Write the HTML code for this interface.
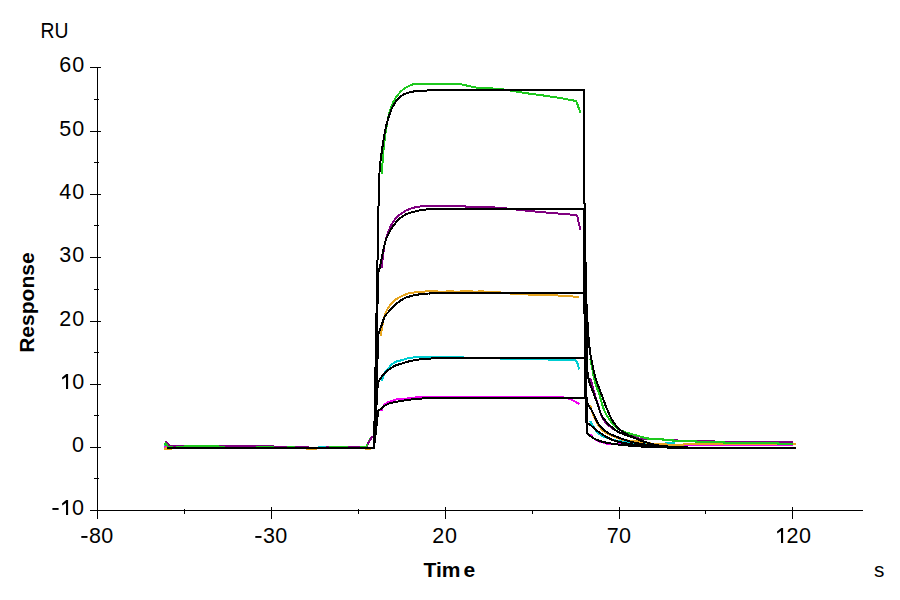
<!DOCTYPE html>
<html><head><meta charset="utf-8"><style>
html,body{margin:0;padding:0;background:#fff;}
body{width:900px;height:600px;overflow:hidden;position:relative;}
svg{position:absolute;left:0;top:0;}
text{font-family:"Liberation Sans",sans-serif;}
</style></head><body>
<svg width="900" height="600" viewBox="0 0 900 600">
<rect width="900" height="600" fill="#fff"/>
<g fill="#000" shape-rendering="crispEdges">
<rect x="97" y="67" width="1" height="451"/>
<rect x="97" y="510" width="766" height="1"/>
<rect x="90" y="67" width="11" height="1"/>
<rect x="90" y="131" width="11" height="1"/>
<rect x="90" y="194" width="11" height="1"/>
<rect x="90" y="257" width="11" height="1"/>
<rect x="90" y="321" width="11" height="1"/>
<rect x="90" y="384" width="11" height="1"/>
<rect x="90" y="447" width="11" height="1"/>
<rect x="90" y="510" width="11" height="1"/>
<rect x="94" y="99" width="5" height="1"/>
<rect x="94" y="162" width="5" height="1"/>
<rect x="94" y="225" width="5" height="1"/>
<rect x="94" y="289" width="5" height="1"/>
<rect x="94" y="352" width="5" height="1"/>
<rect x="94" y="415" width="5" height="1"/>
<rect x="94" y="478" width="5" height="1"/>
<rect x="97" y="507" width="1" height="12"/>
<rect x="271" y="507" width="1" height="12"/>
<rect x="445" y="507" width="1" height="12"/>
<rect x="619" y="507" width="1" height="12"/>
<rect x="792" y="507" width="1" height="12"/>
<rect x="184" y="509" width="1" height="5"/>
<rect x="358" y="509" width="1" height="5"/>
<rect x="532" y="510" width="1" height="4"/>
<rect x="705" y="510" width="1" height="4"/>
</g>
<g font-size="21.5" fill="#000">
<rect x="81.30" y="536.00" width="6.2" height="1.9"/>
<text x="89.00" y="543">8</text>
<text x="101.25" y="543">0</text>
<rect x="255.30" y="536.00" width="6.2" height="1.9"/>
<text x="263.00" y="543">3</text>
<text x="275.25" y="543">0</text>
<text x="432.25" y="543">2</text>
<text x="445.00" y="543">0</text>
<text x="606.75" y="543">7</text>
<text x="619.00" y="543">0</text>
<path d="M783.10,528.00V543.00H781.00V531.00L777.30,533.50L777.00,531.60L781.20,528.00Z"/>
<text x="786.50" y="543">2</text>
<text x="799.00" y="543">0</text>
<text x="59.30" y="72">6</text>
<text x="72.30" y="72">0</text>
<text x="59.30" y="136">5</text>
<text x="72.30" y="136">0</text>
<text x="59.30" y="199">4</text>
<text x="72.30" y="199">0</text>
<text x="59.30" y="262">3</text>
<text x="72.30" y="262">0</text>
<text x="59.30" y="326">2</text>
<text x="72.30" y="326">0</text>
<path d="M68.10,374.00V389.00H66.00V377.00L62.30,379.50L62.00,377.60L66.20,374.00Z"/>
<text x="72.30" y="389">0</text>
<text x="72.00" y="452">0</text>
<rect x="52.40" y="508.00" width="6.2" height="1.9"/>
<path d="M68.10,500.00V515.00H66.00V503.00L62.30,505.50L62.00,503.60L66.20,500.00Z"/>
<text x="72.10" y="515">0</text>
<text transform="translate(40.45,38) scale(0.9,1)" font-size="21.5">RU</text>
<text x="874.1" y="577" font-size="20.8">s</text>
<text x="423.5" y="577" font-size="21" font-weight="bold">Tim</text>
<text x="463.5" y="577" font-size="21" font-weight="bold">e</text>
<text transform="translate(34.2,352.8) rotate(-90)" font-size="21" font-weight="bold">Response</text>
</g>
<g fill="none" stroke-width="2" shape-rendering="crispEdges" stroke-linejoin="round">
<polyline stroke="#00cdd2" points="164.0,445.0 165.5,445.0 166.5,446.5 168.0,448.0 168.0,448.0 319.0,448.0 319.0,447.0 327.0,447.0 327.0,448.0 366.0,448.0"/>
<polyline stroke="#00cdd2" points="382.0,381.0 383.0,377.3 384.0,374.2 385.0,372.2 386.0,370.8 387.0,369.8 388.0,368.7 389.0,367.5 390.0,366.3 391.0,365.2 392.0,364.3 393.0,363.5 394.0,362.8 395.0,362.2 396.0,361.7 397.0,361.4 398.0,361.1 399.0,360.8 400.0,360.6 401.0,360.4 402.0,360.2 403.0,359.9 404.0,359.6 405.0,359.3 406.0,358.9 407.0,358.6 408.0,358.3 409.0,358.1 410.0,357.9 411.0,357.7 412.0,357.6 413.0,357.5 414.0,357.4 415.0,357.3 416.0,357.3 417.0,357.3 418.0,357.3 419.0,357.2 420.0,357.2 421.0,357.2 422.0,357.2 423.0,357.1 424.0,357.1 425.0,357.1 426.0,357.1 427.0,357.1 428.0,357.1 429.0,357.1 430.0,357.0 431.0,357.0 432.0,357.0 433.0,357.0 434.0,357.0 435.0,357.0 436.0,357.0 437.0,357.0 438.0,357.0 439.0,357.0 440.0,357.0 443.0,357.0 446.0,357.0 449.0,357.1 452.0,357.2 455.0,357.2 458.0,357.3 461.0,357.4 464.0,357.5 467.0,357.6 470.0,357.7 473.0,357.8 476.0,357.9 479.0,358.0 482.0,358.0 485.0,358.1 488.0,358.2 491.0,358.3 494.0,358.3 497.0,358.4 500.0,358.5 503.0,358.5 506.0,358.6 509.0,358.7 512.0,358.7 515.0,358.8 518.0,358.9 521.0,358.9 524.0,359.0 527.0,359.0 530.0,359.1 533.0,359.2 536.0,359.2 539.0,359.3 542.0,359.4 545.0,359.4 548.0,359.5 551.0,359.5 554.0,359.6 557.0,359.7 560.0,359.7 563.0,359.8 566.0,359.8 569.0,359.9 572.0,359.9 575.0,360.0 577.0,362.0 579.3,369.3"/>
<polyline stroke="#00cdd2" points="590.1,421.1 591.1,422.6 592.1,424.2 593.1,425.8 594.1,427.3 595.1,429.0 596.1,430.7 597.1,432.1 598.1,433.1 599.1,433.9 600.1,434.6 601.1,435.2 602.1,435.8 603.1,436.3 604.1,436.8 605.1,437.2 606.1,437.5 607.1,437.9 608.1,438.2 609.1,438.6 610.1,439.0 611.1,439.3 612.1,439.7 613.1,440.0 614.1,440.2 615.1,440.4 616.1,440.6 617.1,440.7 618.1,440.9 619.1,441.1 620.1,441.2 621.1,441.4 622.1,441.5 623.1,441.7 624.1,441.8 625.1,441.9 626.1,442.1 627.1,442.2 628.1,442.3 629.1,442.5 630.1,442.6 631.1,442.7 632.1,442.8 633.1,442.8 634.1,442.9 635.1,443.0 636.1,443.1 637.1,443.1 638.1,443.2 639.1,443.3 640.0,443.3 640.0,444.0 666.0,444.0 666.0,443.0 674.0,443.0 674.0,445.0 684.0,445.0 684.0,445.0 697.0,445.0 697.0,445.0 793.0,445.0"/>
<polyline stroke="#f000f0" points="164.0,446.5 166.0,446.5 167.0,448.0 167.0,448.0 366.0,448.0"/>
<polyline stroke="#f000f0" points="381.3,411.1 382.3,408.6 383.3,406.5 384.3,405.0 385.3,404.0 386.3,403.3 387.3,402.7 388.3,402.2 389.3,401.8 390.3,401.4 391.3,401.0 392.3,400.7 393.3,400.4 394.3,400.1 395.3,399.8 396.3,399.5 397.3,399.3 398.3,399.2 399.3,399.1 400.3,399.1 401.3,399.0 402.3,399.0 403.3,398.9 404.3,398.9 405.3,398.8 406.3,398.6 407.3,398.5 408.3,398.3 409.3,398.2 410.3,398.0 411.3,397.9 412.3,397.7 413.3,397.6 414.3,397.5 415.3,397.5 416.3,397.4 417.3,397.4 418.3,397.4 419.3,397.3 420.3,397.3 421.3,397.3 422.3,397.3 423.3,397.2 424.3,397.2 425.3,397.2 426.3,397.2 427.3,397.1 428.3,397.1 429.3,397.1 430.3,397.1 431.3,397.1 432.3,397.1 433.3,397.0 434.3,397.0 435.3,397.0 436.3,397.0 437.3,397.0 438.3,397.0 439.3,397.0 440.3,397.0 443.3,397.0 446.3,397.0 449.3,397.0 452.3,397.0 455.3,397.0 458.3,397.0 461.3,397.0 464.3,397.0 467.3,397.0 470.3,397.0 473.3,397.0 476.3,397.0 479.3,397.0 482.3,397.0 485.3,397.0 488.3,397.0 491.3,397.0 494.3,397.0 497.3,397.0 500.3,397.0 503.3,397.0 506.3,397.0 509.3,397.0 512.3,397.0 515.3,397.0 518.3,397.0 521.3,397.0 524.3,397.0 527.3,397.0 530.3,397.0 533.3,397.0 536.3,397.0 539.3,397.0 542.3,397.0 545.3,397.0 548.3,397.0 551.3,397.0 554.3,397.0 557.3,397.0 560.3,397.0 563.3,397.3 566.3,398.0 569.3,398.9 571.0,399.3 579.3,404.0"/>
<polyline stroke="#f000f0" points="590.4,434.2 591.4,435.5 592.4,436.8 593.4,437.9 594.4,438.8 595.4,439.4 596.4,440.0 597.4,440.5 598.4,441.0 599.4,441.4 600.4,441.8 601.4,442.1 602.4,442.4 603.4,442.7 604.4,443.0 605.4,443.3 606.4,443.6 607.4,443.8 608.4,443.9 609.4,444.0 610.4,444.1 611.4,444.1 612.4,444.2 613.4,444.2 614.4,444.3 615.4,444.3 616.4,444.3 617.4,444.4 618.4,444.4 619.4,444.4 620.4,444.4 621.4,444.4 622.4,444.4 623.4,444.5 624.4,444.5 625.4,444.5 626.4,444.5 627.4,444.5 628.4,444.5 629.4,444.5 630.4,444.5 631.4,444.6 632.4,444.6 633.4,444.6 634.4,444.6 635.4,444.6 636.4,444.6 637.4,444.6 638.4,444.6 639.4,444.6 640.0,444.6 640.0,446.0 657.0,446.0 657.0,445.0 666.0,445.0 666.0,446.0 671.0,446.0 671.0,445.0 793.0,445.0"/>
<polyline stroke="#e6a521" points="164.0,449.0 166.0,449.0 166.0,448.0 168.0,448.0 168.0,449.0 171.0,449.0 171.0,448.0 307.0,448.0 307.0,449.0 316.0,449.0 316.0,448.0 366.0,448.0 366.0,449.0 371.0,449.0"/>
<polyline stroke="#e6a521" points="380.8,335.6 381.8,329.1 382.8,323.4 383.8,318.9 384.8,315.5 385.8,312.8 386.8,310.6 387.8,308.7 388.8,307.0 389.8,305.6 390.8,304.4 391.8,303.2 392.8,302.2 393.8,301.2 394.8,300.3 395.8,299.5 396.8,298.8 397.8,298.2 398.8,297.6 399.8,297.1 400.8,296.6 401.8,296.1 402.8,295.7 403.8,295.2 404.8,294.8 405.8,294.4 406.8,294.0 407.8,293.6 408.8,293.2 409.8,293.0 410.8,292.8 411.8,292.6 412.8,292.6 413.8,292.5 414.8,292.4 415.8,292.3 416.8,292.2 417.8,292.1 418.8,292.0 419.8,292.0 420.8,291.9 421.8,291.8 422.8,291.7 423.8,291.6 424.8,291.5 425.8,291.4 426.8,291.4 427.8,291.3 428.8,291.3 429.8,291.3 430.8,291.3 431.8,291.3 432.8,291.3 433.8,291.3 434.8,291.3 435.8,291.3 436.8,291.3 437.8,291.3 438.8,292.0 439.8,292.0 440.8,292.0 443.8,292.0 446.8,291.4 449.8,291.0 452.8,291.1 455.8,292.0 458.8,292.0 461.8,291.0 464.8,291.0 467.8,291.0 470.8,291.0 473.8,291.6 476.8,292.0 479.8,291.0 482.8,291.0 485.8,292.1 488.8,292.3 491.8,292.3 494.8,292.4 497.8,292.4 500.8,292.5 503.8,292.8 506.8,293.1 509.8,293.4 512.8,293.8 515.8,294.0 518.8,294.1 521.8,294.3 524.8,294.4 527.8,294.5 530.8,294.6 533.8,294.7 536.8,294.8 539.8,294.9 542.8,294.9 545.8,295.0 548.8,295.1 551.8,295.2 554.8,295.4 557.8,295.5 560.8,295.6 563.8,295.8 566.8,296.0 569.8,296.2 572.8,296.5 575.8,296.7 578.8,297.0 579.3,297.0"/>
<polyline stroke="#e6a521" points="590.0,405.0 591.0,408.2 592.0,411.3 593.0,414.1 594.0,416.5 595.0,418.8 596.0,420.9 597.0,422.8 598.0,424.6 599.0,426.2 600.0,427.5 601.0,428.7 602.0,429.7 603.0,430.7 604.0,431.6 605.0,432.4 606.0,433.1 607.0,433.6 608.0,434.2 609.0,434.6 610.0,435.0 611.0,435.4 612.0,435.8 613.0,436.2 614.0,436.6 615.0,437.0 616.0,437.4 617.0,437.8 618.0,438.1 619.0,438.5 620.0,438.8 621.0,439.1 622.0,439.4 623.0,439.6 624.0,439.8 625.0,440.0 626.0,440.2 627.0,440.4 628.0,440.5 629.0,440.7 630.0,440.8 631.0,441.0 632.0,441.1 633.0,441.2 634.0,441.2 635.0,441.3 636.0,441.3 637.0,441.4 638.0,441.4 639.0,441.5 640.0,441.5 641.0,441.5 642.0,441.5 642.0,441.5 646.0,441.5 646.0,442.5 650.0,442.5 650.0,443.5 666.0,443.5 666.0,444.5 684.0,444.5 684.0,443.5 696.0,443.5 696.0,443.5 724.0,443.5 724.0,444.0 796.0,444.0"/>
<polyline stroke="#800080" points="164.5,445.0 166.3,442.0 169.0,445.0 170.0,446.0 170.0,446.0 273.0,446.0 273.0,447.0 308.0,447.0 308.0,448.0 327.0,448.0 327.0,447.0 330.0,447.0 330.0,448.0 347.0,448.0 347.0,447.0 361.0,447.0 361.0,448.0 366.0,448.0 367.0,445.0 372.5,436.0"/>
<polyline stroke="#800080" points="381.6,268.1 382.6,259.0 383.6,251.0 384.6,244.8 385.6,240.3 386.6,236.7 387.6,233.7 388.6,231.0 389.6,228.6 390.6,226.4 391.6,224.4 392.6,222.6 393.6,221.2 394.6,219.9 395.6,218.7 396.6,217.6 397.6,216.6 398.6,215.7 399.6,214.9 400.6,214.1 401.6,213.4 402.6,212.7 403.6,212.0 404.6,211.4 405.6,210.8 406.6,210.3 407.6,209.9 408.6,209.4 409.6,209.1 410.6,208.7 411.6,208.4 412.6,208.0 413.6,207.8 414.6,207.5 415.6,207.3 416.6,207.1 417.6,206.9 418.6,206.7 419.6,206.5 420.6,206.4 421.6,206.2 422.6,206.0 423.6,205.8 424.6,205.7 425.6,205.6 426.6,205.6 427.6,205.6 428.6,205.6 429.6,205.6 430.6,205.5 431.6,205.5 432.6,205.5 433.6,205.5 434.6,205.5 435.6,205.5 436.6,205.5 437.6,205.5 438.6,205.5 439.6,205.5 440.6,205.5 443.6,205.5 446.6,205.5 449.6,205.5 452.6,205.5 455.6,205.5 458.6,205.5 461.6,205.5 464.6,206.3 467.6,207.0 470.6,207.1 473.6,207.2 476.6,207.2 479.6,207.3 482.6,207.3 485.6,207.3 488.6,207.4 491.6,207.4 494.6,207.5 497.6,207.6 500.6,207.8 503.6,208.1 506.6,208.4 509.6,208.8 512.6,209.2 515.6,209.5 518.6,209.9 521.6,210.2 524.6,210.5 527.6,210.8 530.6,211.1 533.6,211.4 536.6,211.7 539.6,212.0 542.6,212.2 545.6,212.5 548.6,212.7 551.6,213.0 554.6,213.2 557.6,213.5 560.6,213.8 563.6,214.0 566.6,214.3 569.6,214.5 572.6,214.8 575.6,215.0 576.0,215.0 577.5,217.0 580.3,230.0"/>
<polyline stroke="#800080" points="590.4,378.3 591.4,382.1 592.4,385.8 593.4,389.4 594.4,392.9 595.4,396.4 596.4,399.8 597.4,403.1 598.4,406.3 599.4,409.5 600.4,412.7 601.4,415.6 602.4,417.8 603.4,419.5 604.4,420.9 605.4,422.1 606.4,423.2 607.4,424.2 608.4,425.1 609.4,426.1 610.4,426.9 611.4,427.7 612.4,428.4 613.4,429.1 614.4,429.7 615.4,430.2 616.4,430.8 617.4,431.3 618.4,431.8 619.4,432.3 620.4,432.7 621.4,433.1 622.4,433.5 623.4,433.8 624.4,434.1 625.4,434.4 626.4,434.6 627.4,434.9 628.4,435.1 629.4,435.4 630.4,435.6 631.4,435.9 632.4,436.2 633.4,436.5 634.4,436.9 635.4,437.2 636.4,437.6 637.4,438.0 638.4,438.4 639.4,438.8 640.0,439.0 640.0,439.0 663.0,439.0 663.0,440.0 677.0,440.0 677.0,441.0 696.0,441.0 696.0,441.0 714.0,441.0 714.0,442.0 793.0,442.0"/>
<polyline stroke="#1ec81e" points="164.5,445.5 165.5,443.5 167.0,445.0 168.0,447.0 168.0,447.0 172.0,447.0 172.0,448.0 177.0,448.0 177.0,447.0 185.0,447.0 185.0,446.0 218.0,446.0 218.0,447.0 224.0,447.0 224.0,448.0 257.0,448.0 257.0,447.0 273.0,447.0 273.0,448.0 288.0,448.0 288.0,447.0 294.0,447.0 294.0,448.0 330.0,448.0 330.0,447.0 347.0,447.0 347.0,448.0 361.0,448.0 361.0,447.0 366.0,447.0 372.0,436.0"/>
<polyline stroke="#1ec81e" points="381.8,174.2 382.8,158.6 383.8,147.0 384.8,138.3 385.8,131.3 386.8,125.2 387.8,119.8 388.8,115.3 389.8,111.5 390.8,108.2 391.8,105.4 392.8,103.1 393.8,101.1 394.8,99.3 395.8,97.6 396.8,96.2 397.8,94.9 398.8,93.7 399.8,92.6 400.8,91.5 401.8,90.6 402.8,89.7 403.8,89.0 404.8,88.3 405.8,87.6 406.8,87.0 407.8,86.5 408.8,86.0 409.8,85.6 410.8,85.2 411.8,84.7 412.8,84.4 413.8,84.0 414.8,83.8 415.8,83.7 416.8,83.7 417.8,83.7 418.8,83.7 419.8,83.7 420.8,83.7 421.8,83.7 422.8,83.7 423.8,83.7 424.8,83.7 425.8,83.7 426.8,83.7 427.8,83.7 428.8,83.7 429.8,83.7 430.8,83.7 431.8,83.7 432.8,83.7 433.8,83.7 434.8,83.7 435.8,83.7 436.8,83.7 437.8,83.7 438.8,83.7 439.8,83.7 440.8,83.7 443.8,83.7 446.8,83.7 449.8,83.7 452.8,83.7 455.8,83.7 458.8,83.9 461.8,84.4 464.8,85.1 467.8,85.8 470.8,86.5 473.8,87.1 476.8,87.6 479.8,87.8 482.8,88.0 485.8,88.1 488.8,88.3 491.8,88.4 494.8,88.6 497.8,88.8 500.8,89.1 503.8,89.5 506.8,89.9 509.8,90.4 512.8,90.9 515.8,91.5 518.8,92.0 521.8,92.5 524.8,92.9 527.8,93.4 530.8,93.8 533.8,94.2 536.8,94.6 539.8,95.0 542.8,95.4 545.8,95.8 548.8,96.3 551.8,96.7 554.8,97.2 557.8,97.7 560.8,98.2 563.8,98.7 566.8,99.3 569.8,99.8 572.8,100.4 575.8,100.9 576.2,101.0 580.4,112.6"/>
<polyline stroke="#1ec81e" points="590.4,359.2 591.4,364.3 592.4,369.5 593.4,375.0 594.4,379.8 595.4,383.4 596.4,386.5 597.4,389.3 598.4,392.0 599.4,394.9 600.4,398.0 601.4,401.6 602.4,405.2 603.4,408.4 604.4,410.9 605.4,413.0 606.4,414.8 607.4,416.5 608.4,418.0 609.4,419.4 610.4,420.8 611.4,422.1 612.4,423.4 613.4,424.6 614.4,425.7 615.4,426.7 616.4,427.5 617.4,428.3 618.4,428.9 619.4,429.5 620.4,430.1 621.4,430.6 622.4,431.0 623.4,431.4 624.4,431.8 625.4,432.2 626.4,432.6 627.4,432.9 628.4,433.3 629.4,433.5 630.4,433.8 631.4,434.1 632.4,434.4 633.4,434.7 634.4,435.0 635.4,435.3 636.4,435.5 637.4,435.8 638.4,436.1 639.4,436.3 640.4,436.6 641.4,436.9 642.4,437.1 643.4,437.4 644.0,437.5 644.0,438.0 648.0,438.0 648.0,439.0 663.0,439.0 663.0,440.0 673.0,440.0 673.0,441.0 696.0,441.0 696.0,442.0 724.0,442.0 724.0,443.0 778.0,443.0 778.0,444.0 793.0,444.0"/>
<polyline stroke="#800080" points="367.5,444.5 372.5,436.0"/>
</g>
<g fill="none" stroke="#000" stroke-width="2" shape-rendering="crispEdges" stroke-linejoin="round">
<polyline points="167.0,448.0 374.0,448.0 379.0,180.0 380.0,165.4 381.0,157.0 382.0,150.3 383.0,143.2 384.0,136.7 385.0,131.3 386.0,126.6 387.0,122.5 388.0,119.0 389.0,115.9 390.0,113.1 391.0,110.4 392.0,108.1 393.0,106.1 394.0,104.4 395.0,102.7 396.0,101.2 397.0,100.0 398.0,98.9 399.0,97.9 400.0,97.0 401.0,96.2 402.0,95.5 403.0,94.9 404.0,94.3 405.0,93.9 406.0,93.5 407.0,93.1 408.0,92.8 409.0,92.5 410.0,92.2 411.0,92.0 412.0,91.8 413.0,91.6 414.0,91.4 415.0,91.3 416.0,91.1 417.0,91.0 418.0,90.9 419.0,90.8 420.0,90.8 421.0,90.7 422.0,90.7 423.0,90.6 424.0,90.6 425.0,90.5 426.0,90.5 427.0,90.5 428.0,90.4 429.0,90.4 430.0,90.4 431.0,90.3 432.0,90.3 433.0,90.3 434.0,90.2 435.0,90.2 436.0,90.2 437.0,90.1 438.0,90.1 439.0,90.1 440.0,90.1 460.0,90.0 480.0,90.0 500.0,90.0 520.0,90.0 540.0,90.0 560.0,90.0 580.0,90.0 584.0,90.0 584.0,203.0 585.0,204.0 585.5,260.0 586.0,296.0 587.0,314.0 588.0,330.0 589.0,343.0 590.0,351.6 591.0,357.9 592.0,362.7 593.0,367.3 594.0,371.9 595.0,376.1 596.0,379.7 597.0,382.7 598.0,385.4 599.0,387.9 600.0,390.4 601.0,393.0 602.0,395.8 603.0,398.6 604.0,401.3 605.0,404.0 606.0,406.6 607.0,409.0 608.0,411.4 609.0,413.7 610.0,415.9 611.0,418.0 612.0,419.9 613.0,421.5 614.0,423.0 615.0,424.3 616.0,425.6 617.0,426.8 618.0,427.8 619.0,428.8 620.0,429.7 621.0,430.5 622.0,431.3 623.0,432.0 624.0,432.6 625.0,433.2 626.0,433.8 627.0,434.3 628.0,434.9 629.0,435.4 630.0,435.8 631.0,436.3 632.0,436.7 633.0,437.1 634.0,437.6 635.0,438.0 636.0,438.5 637.0,439.0 638.0,439.6 639.0,440.1 640.0,440.5 641.0,440.8 642.0,441.1 643.0,441.4 644.0,441.7 645.0,441.9 646.0,442.2 647.0,442.5 648.0,442.9 649.0,443.2 650.0,443.7 660.0,445.9 670.0,446.7 680.0,447.2 690.0,447.6 700.0,447.9 710.0,448.0 720.0,448.0 730.0,448.0 740.0,448.0 750.0,448.0 760.0,448.0 770.0,448.0 780.0,448.0 790.0,448.0 796.0,448.0"/>
<polyline points="167.0,448.0 374.0,448.0 378.3,272.0 379.3,269.3 380.3,265.1 381.3,260.0 382.3,255.0 383.3,250.2 384.3,245.5 385.3,241.6 386.3,238.7 387.3,236.3 388.3,234.2 389.3,232.3 390.3,230.5 391.3,228.8 392.3,227.2 393.3,225.8 394.3,224.4 395.3,223.2 396.3,222.0 397.3,220.9 398.3,219.9 399.3,218.9 400.3,218.0 401.3,217.3 402.3,216.6 403.3,215.9 404.3,215.3 405.3,214.7 406.3,214.2 407.3,213.8 408.3,213.4 409.3,213.1 410.3,212.8 411.3,212.5 412.3,212.2 413.3,212.0 414.3,211.7 415.3,211.4 416.3,211.1 417.3,210.8 418.3,210.6 419.3,210.4 420.3,210.2 421.3,210.0 422.3,209.9 423.3,209.8 424.3,209.6 425.3,209.5 426.3,209.5 427.3,209.4 428.3,209.4 429.3,209.4 430.3,209.3 431.3,209.3 432.3,209.2 433.3,209.2 434.3,209.2 435.3,209.2 436.3,209.2 437.3,209.1 438.3,209.1 439.3,209.1 440.3,209.1 460.3,209.0 480.3,209.0 500.3,209.0 520.3,209.0 540.3,209.0 560.3,209.0 580.3,209.0 583.5,209.0 583.5,243.0 584.5,314.0 585.5,343.0 586.5,362.0 587.5,371.8 588.5,378.4 589.5,382.4 590.5,385.4 591.5,388.0 592.5,390.4 593.5,393.1 594.5,395.8 595.5,398.5 596.5,401.2 597.5,404.0 598.5,407.1 599.5,410.1 600.5,412.9 601.5,415.1 602.5,416.8 603.5,418.4 604.5,419.7 605.5,420.9 606.5,422.1 607.5,423.1 608.5,424.1 609.5,425.1 610.5,426.0 611.5,426.9 612.5,427.8 613.5,428.6 614.5,429.4 615.5,430.1 616.5,430.8 617.5,431.4 618.5,432.0 619.5,432.5 620.5,432.9 621.5,433.3 622.5,433.7 623.5,434.1 624.5,434.5 625.5,434.8 626.5,435.2 627.5,435.5 628.5,435.9 629.5,436.2 630.5,436.6 631.5,436.9 632.5,437.2 633.5,437.5 634.5,437.9 635.5,438.2 636.5,438.6 637.5,438.9 638.5,439.3 639.5,439.7 640.5,440.1 641.5,440.5 642.5,440.9 643.5,441.2 644.5,441.6 645.5,442.0 646.5,442.4 647.5,442.8 648.5,443.2 649.5,443.6 650.5,444.0 660.5,445.9 670.5,446.7 680.5,447.2 690.5,447.6 700.5,447.9 710.5,448.0 720.5,448.0 730.5,448.0 740.5,448.0 750.5,448.0 760.5,448.0 770.5,448.0 780.5,448.0 790.5,448.0 796.0,448.0"/>
<polyline points="167.0,448.0 374.0,448.0 378.5,334.0 379.5,331.1 380.5,328.3 381.5,325.5 382.5,322.5 383.5,319.4 384.5,317.0 385.5,315.4 386.5,314.1 387.5,313.0 388.5,312.0 389.5,310.8 390.5,309.7 391.5,308.5 392.5,307.4 393.5,306.4 394.5,305.4 395.5,304.5 396.5,303.6 397.5,302.8 398.5,302.0 399.5,301.3 400.5,300.6 401.5,300.0 402.5,299.4 403.5,298.8 404.5,298.3 405.5,297.8 406.5,297.4 407.5,297.1 408.5,296.8 409.5,296.5 410.5,296.2 411.5,296.0 412.5,295.7 413.5,295.4 414.5,295.2 415.5,295.0 416.5,294.8 417.5,294.7 418.5,294.5 419.5,294.4 420.5,294.3 421.5,294.1 422.5,294.0 423.5,293.9 424.5,293.8 425.5,293.8 426.5,293.7 427.5,293.6 428.5,293.5 429.5,293.5 430.5,293.4 431.5,293.3 432.5,293.3 433.5,293.2 434.5,293.2 435.5,293.2 436.5,293.2 437.5,293.1 438.5,293.1 439.5,293.1 440.5,293.1 460.5,293.0 480.5,293.0 500.5,293.0 520.5,293.0 540.5,293.0 560.5,293.0 580.5,293.0 585.0,293.0 585.0,398.0 586.0,400.3 587.0,402.5 588.0,404.4 589.0,406.2 590.0,407.8 591.0,409.3 592.0,411.1 593.0,413.0 594.0,415.2 595.0,417.3 596.0,419.4 597.0,421.5 598.0,423.1 599.0,424.6 600.0,426.0 601.0,427.2 602.0,428.3 603.0,429.3 604.0,430.1 605.0,430.9 606.0,431.6 607.0,432.2 608.0,432.8 609.0,433.4 610.0,433.9 611.0,434.4 612.0,434.8 613.0,435.3 614.0,435.7 615.0,436.1 616.0,436.5 617.0,436.9 618.0,437.3 619.0,437.7 620.0,438.1 621.0,438.5 622.0,438.8 623.0,439.2 624.0,439.5 625.0,439.9 626.0,440.2 627.0,440.5 628.0,440.9 629.0,441.2 630.0,441.5 631.0,441.7 632.0,442.0 633.0,442.2 634.0,442.5 635.0,442.7 636.0,442.9 637.0,443.1 638.0,443.3 639.0,443.5 640.0,443.7 641.0,443.8 642.0,444.0 643.0,444.2 644.0,444.3 645.0,444.5 646.0,444.7 647.0,444.8 648.0,445.0 649.0,445.1 650.0,445.3 660.0,446.5 670.0,447.2 680.0,447.6 690.0,447.9 700.0,448.0 710.0,448.0 720.0,448.0 730.0,448.0 740.0,448.0 750.0,448.0 760.0,448.0 770.0,448.0 780.0,448.0 790.0,448.0 796.0,448.0"/>
<polyline points="167.0,448.0 374.0,448.0 377.8,383.0 378.8,381.2 379.8,379.5 380.8,377.9 381.8,376.5 382.8,375.2 383.8,374.0 384.8,372.9 385.8,371.9 386.8,371.0 387.8,370.3 388.8,369.6 389.8,368.9 390.8,368.2 391.8,367.6 392.8,366.9 393.8,366.4 394.8,365.8 395.8,365.4 396.8,365.0 397.8,364.7 398.8,364.4 399.8,364.1 400.8,363.8 401.8,363.6 402.8,363.3 403.8,363.0 404.8,362.6 405.8,362.3 406.8,362.0 407.8,361.7 408.8,361.4 409.8,361.2 410.8,361.0 411.8,360.8 412.8,360.6 413.8,360.4 414.8,360.2 415.8,360.0 416.8,359.9 417.8,359.7 418.8,359.5 419.8,359.4 420.8,359.2 421.8,359.1 422.8,359.0 423.8,358.9 424.8,358.8 425.8,358.7 426.8,358.7 427.8,358.6 428.8,358.6 429.8,358.5 430.8,358.5 431.8,358.4 432.8,358.4 433.8,358.4 434.8,358.3 435.8,358.3 436.8,358.3 437.8,358.2 438.8,358.2 439.8,358.2 440.8,358.2 460.8,358.0 480.8,358.0 500.8,358.0 520.8,358.0 540.8,358.0 560.8,358.0 580.8,358.0 585.0,358.0 586.0,358.0 586.0,422.5 587.0,423.0 588.0,423.5 589.0,424.1 590.0,424.8 591.0,425.5 592.0,426.4 593.0,427.3 594.0,428.2 595.0,429.1 596.0,430.0 597.0,430.8 598.0,431.5 599.0,432.2 600.0,432.9 601.0,433.6 602.0,434.3 603.0,434.9 604.0,435.5 605.0,436.1 606.0,436.7 607.0,437.2 608.0,437.8 609.0,438.3 610.0,438.8 611.0,439.3 612.0,439.7 613.0,440.1 614.0,440.4 615.0,440.8 616.0,441.1 617.0,441.4 618.0,441.6 619.0,441.9 620.0,442.1 621.0,442.4 622.0,442.6 623.0,442.8 624.0,443.0 625.0,443.2 626.0,443.4 627.0,443.6 628.0,443.7 629.0,443.9 630.0,444.1 631.0,444.2 632.0,444.4 633.0,444.5 634.0,444.7 635.0,444.8 636.0,444.9 637.0,445.1 638.0,445.2 639.0,445.3 640.0,445.5 641.0,445.6 642.0,445.7 643.0,445.8 644.0,445.9 645.0,446.0 646.0,446.1 647.0,446.2 648.0,446.3 649.0,446.4 650.0,446.5 660.0,447.2 670.0,447.6 680.0,447.8 690.0,447.9 700.0,448.0 710.0,448.0 720.0,448.0 730.0,448.0 740.0,448.0 750.0,448.0 760.0,448.0 770.0,448.0 780.0,448.0 790.0,448.0 796.0,448.0"/>
<polyline points="167.0,448.0 374.0,448.0 378.2,410.6 379.2,410.0 380.2,409.3 381.2,408.6 382.2,407.8 383.2,407.0 384.2,406.2 385.2,405.5 386.2,404.9 387.2,404.4 388.2,403.9 389.2,403.5 390.2,403.2 391.2,402.9 392.2,402.6 393.2,402.4 394.2,402.2 395.2,401.9 396.2,401.8 397.2,401.6 398.2,401.4 399.2,401.2 400.2,401.1 401.2,401.0 402.2,400.8 403.2,400.7 404.2,400.5 405.2,400.4 406.2,400.2 407.2,400.0 408.2,399.9 409.2,399.7 410.2,399.6 411.2,399.5 412.2,399.4 413.2,399.3 414.2,399.2 415.2,399.1 416.2,399.0 417.2,398.9 418.2,398.9 419.2,398.8 420.2,398.7 421.2,398.6 422.2,398.5 423.2,398.4 424.2,398.4 425.2,398.3 426.2,398.3 427.2,398.3 428.2,398.2 429.2,398.2 430.2,398.2 431.2,398.1 432.2,398.1 433.2,398.1 434.2,398.1 435.2,398.0 436.2,398.0 437.2,398.0 438.2,398.0 439.2,398.0 440.2,398.0 460.2,398.0 480.2,398.0 500.2,398.0 520.2,398.0 540.2,398.0 560.2,398.0 580.2,398.0 584.5,398.0 587.0,398.0 587.0,432.6 588.0,433.9 589.0,435.0 590.0,435.9 591.0,436.6 592.0,437.3 593.0,437.9 594.0,438.5 595.0,439.0 596.0,439.4 597.0,439.9 598.0,440.3 599.0,440.7 600.0,441.0 601.0,441.3 602.0,441.7 603.0,441.9 604.0,442.2 605.0,442.4 606.0,442.6 607.0,442.8 608.0,443.0 609.0,443.2 610.0,443.3 611.0,443.5 612.0,443.6 613.0,443.8 614.0,443.9 615.0,444.0 616.0,444.2 617.0,444.3 618.0,444.5 619.0,444.6 620.0,444.7 621.0,444.8 622.0,444.9 623.0,445.1 624.0,445.2 625.0,445.3 626.0,445.4 627.0,445.4 628.0,445.5 629.0,445.6 630.0,445.7 631.0,445.8 632.0,445.9 633.0,446.0 634.0,446.0 635.0,446.1 636.0,446.2 637.0,446.2 638.0,446.3 639.0,446.4 640.0,446.4 641.0,446.5 642.0,446.5 643.0,446.6 644.0,446.6 645.0,446.7 646.0,446.7 647.0,446.8 648.0,446.8 649.0,446.9 650.0,446.9 660.0,447.3 670.0,447.6 680.0,447.8 690.0,447.9 700.0,448.0 710.0,448.0 720.0,448.0 730.0,448.0 740.0,448.0 750.0,448.0 760.0,448.0 770.0,448.0 780.0,448.0 790.0,448.0 796.0,448.0"/>
</g>
<polygon fill="#000" shape-rendering="crispEdges" points="583,294 587,294 588,314 589,330 589.5,343 588,348 588,377 584,377 584,314 583,314"/>
</svg>
</body></html>
